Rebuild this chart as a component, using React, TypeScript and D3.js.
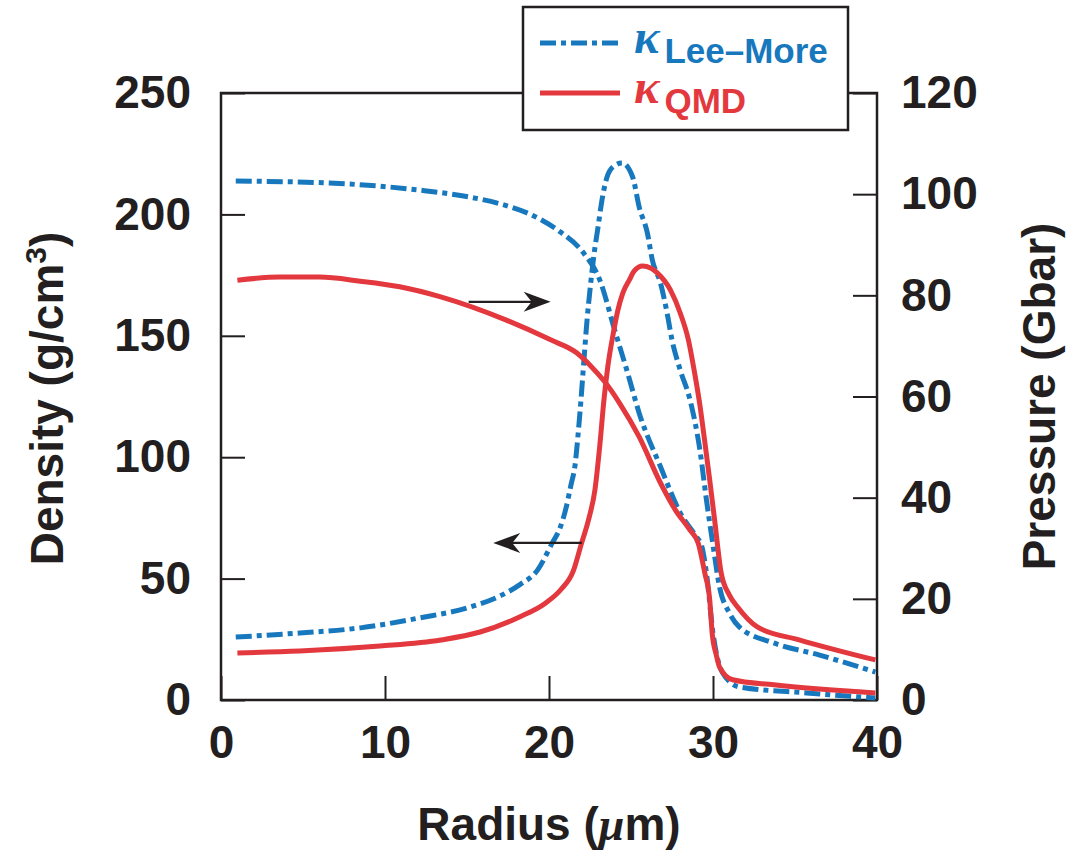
import React, { useEffect, useRef } from 'react';
import * as d3 from 'd3';

// Lee-More density (left axis, g/cm3)
const radiusLeeMoreDensity = [0.9, 4.8, 8.5, 12.1, 15.2, 17.0, 18.2, 19.3, 20.2, 20.67, 21.04, 21.34, 21.59, 21.77, 21.95, 22.13, 22.32, 22.5, 22.74, 22.99, 23.23, 23.54, 23.96, 24.45, 25.1, 25.5, 26.0, 26.3, 26.8, 27.2, 27.5, 28.0, 28.6, 29.2, 29.6, 30.0, 30.4, 31.0, 31.6, 33.7, 36.5, 39.9];
const densityLeeMore = [25.9, 27.6, 29.7, 33.8, 38.3, 42.8, 47.4, 53.5, 64.7, 70.8, 79.1, 88.6, 96.8, 109.1, 123.6, 140.0, 156.5, 168.9, 183.3, 194.8, 205.9, 215.4, 219.9, 221.2, 215.4, 203.0, 192.3, 181.2, 171.7, 159.4, 148.3, 135.9, 123.6, 103.0, 82.4, 63.8, 46.5, 35.8, 30.1, 23.5, 18.5, 11.5];

// QMD density (left axis)
const radiusQmdDensity = [1.0, 4.8, 9.7, 13.4, 15.8, 18.2, 19.8, 20.7, 21.5, 21.95, 22.44, 22.8, 23.1, 23.35, 23.6, 23.9, 24.2, 24.5, 24.9, 25.2, 25.7, 26.2, 26.6, 27.4, 28.0, 28.5, 28.9, 29.2, 29.5, 29.8, 30.1, 30.5, 31.0, 31.5, 32.7, 35.3, 39.9];
const densityQmd = [19.4, 20.2, 22.2, 24.7, 28.0, 34.2, 40.0, 45.3, 53.5, 63.8, 75.0, 86.5, 105.0, 123.6, 138.0, 150.3, 160.6, 167.6, 173.0, 176.7, 178.7, 177.9, 175.9, 168.9, 159.4, 148.3, 133.9, 121.5, 106.3, 90.6, 74.1, 52.3, 43.2, 38.3, 30.1, 24.7, 16.5];

// Lee-More pressure (right axis, Gbar)
const radiusLeeMorePressure = [0.9, 6.6, 12.1, 15.2, 17.0, 18.8, 20.7, 22.1, 23.1, 24.0, 24.8, 25.5, 26.8, 28.0, 29.0, 29.3, 29.6, 30.0, 30.3, 30.6, 31.6, 35.7, 39.9];
const pressureLeeMore = [102.6, 102.2, 100.8, 99.4, 98.1, 96.1, 92.5, 88.4, 83.0, 73.2, 64.6, 56.7, 46.1, 37.0, 32.2, 30.6, 25.1, 13.2, 7.9, 5.3, 2.6, 1.4, 0.4];

// QMD pressure (right axis)
const radiusQmdPressure = [1.0, 3.6, 6.0, 8.5, 10.9, 13.4, 17.4, 20.1, 21.7, 22.5, 23.4, 24.3, 25.5, 26.8, 27.7, 28.6, 29.1, 29.5, 29.8, 29.95, 30.2, 30.4, 31.2, 33.7, 39.9];
const pressureQmd = [83.0, 83.6, 83.6, 82.8, 81.7, 79.7, 75.1, 71.2, 68.6, 66.2, 62.9, 58.7, 52.0, 42.9, 37.6, 33.6, 31.0, 25.1, 19.8, 13.2, 8.9, 6.5, 4.0, 3.0, 1.4];

const radiusTicks = [0, 10, 20, 30, 40];
const densityTicks = [0, 50, 100, 150, 200, 250];
const pressureTicks = [0, 20, 40, 60, 80, 100, 120];

// arrows, in radius / density units: [x1, x2, y]
const arrowRight = [15.1, 20.1, 164];
const arrowLeft = [22.0, 16.6, 64.7];

const BLUE = '#1878be';
const RED = '#e2383e';
const INK = '#231f20';
const FONT = 'Liberation Sans, Arial, Helvetica, sans-serif';
const GREEK = 'Liberation Serif, Times New Roman, serif';

const App = () => {
  const svgRef = useRef<SVGSVGElement>(null);

  const width = 1077;
  const height = 856;
  const margin = { top: 93, right: 200, bottom: 156, left: 221 };

  useEffect(() => {
    const svg = d3.select(svgRef.current);
    svg.selectAll('*').remove();

    const x = d3.scaleLinear().domain([0, 40]).range([margin.left, width - margin.right]);
    const yL = d3.scaleLinear().domain([0, 250]).range([height - margin.bottom, margin.top]);
    const yR = d3.scaleLinear().domain([0, 120]).range([height - margin.bottom, margin.top]);

    const styleAxis = (g: any) => {
      g.select('.domain').remove();
      g.selectAll('.tick line').attr('stroke', INK).attr('stroke-width', 2);
      g.selectAll('.tick text')
        .attr('fill', INK)
        .attr('font-size', 46)
        .attr('font-weight', 'bold')
        .attr('font-family', FONT);
    };

    // frame
    svg.append('rect')
      .attr('x', x(0))
      .attr('y', yL(250))
      .attr('width', x(40) - x(0))
      .attr('height', yL(0) - yL(250))
      .attr('fill', 'none')
      .attr('stroke', INK)
      .attr('stroke-width', 2.5);

    svg.append('g')
      .attr('transform', `translate(${x(0)},0)`)
      .call(d3.axisLeft(yL).tickValues(densityTicks).tickSize(-24).tickPadding(30))
      .call(styleAxis);

    svg.append('g')
      .attr('transform', `translate(${x(40)},0)`)
      .call(d3.axisRight(yR).tickValues(pressureTicks).tickSize(-24).tickPadding(24))
      .call(styleAxis);

    svg.append('g')
      .attr('transform', `translate(0,${yL(0)})`)
      .call(d3.axisBottom(x).tickValues(radiusTicks).tickSize(-24).tickPadding(25))
      .call(styleAxis);

    const lineL = d3.line<[number, number]>()
      .x(d => x(d[0]))
      .y(d => yL(d[1]))
      .curve(d3.curveMonotoneX);
    const lineR = d3.line<[number, number]>()
      .x(d => x(d[0]))
      .y(d => yR(d[1]))
      .curve(d3.curveMonotoneX);

    const dashDot = '16,5,5,5';

    svg.append('path')
      .attr('d', lineR(d3.zip(radiusLeeMorePressure, pressureLeeMore) as [number, number][]))
      .attr('fill', 'none').attr('stroke', BLUE).attr('stroke-width', 5).attr('stroke-dasharray', dashDot);
    svg.append('path')
      .attr('d', lineL(d3.zip(radiusLeeMoreDensity, densityLeeMore) as [number, number][]))
      .attr('fill', 'none').attr('stroke', BLUE).attr('stroke-width', 5).attr('stroke-dasharray', dashDot);
    svg.append('path')
      .attr('d', lineR(d3.zip(radiusQmdPressure, pressureQmd) as [number, number][]))
      .attr('fill', 'none').attr('stroke', RED).attr('stroke-width', 5);
    svg.append('path')
      .attr('d', lineL(d3.zip(radiusQmdDensity, densityQmd) as [number, number][]))
      .attr('fill', 'none').attr('stroke', RED).attr('stroke-width', 5);

    // arrows
    const drawArrow = (a: number[]) => {
      const x1 = x(a[0]), x2 = x(a[1]), yy = yL(a[2]);
      const dir = x2 > x1 ? 1 : -1;
      svg.append('line')
        .attr('x1', x1).attr('x2', x2 - dir * 18)
        .attr('y1', yy).attr('y2', yy)
        .attr('stroke', INK).attr('stroke-width', 2.2);
      svg.append('path')
        .attr('d', `M0,0 L-27,-10 L-19,0 L-27,10 Z`)
        .attr('transform', `translate(${x2},${yy}) scale(${dir},1)`)
        .attr('fill', INK);
    };
    drawArrow(arrowRight);
    drawArrow(arrowLeft);

    // legend
    const lg = svg.append('g');
    lg.append('rect')
      .attr('x', 523).attr('y', 7).attr('width', 325).attr('height', 123)
      .attr('fill', '#fff').attr('stroke', INK).attr('stroke-width', 2.5);
    const entries = [
      { label: 'Lee\u2013More', color: BLUE, dash: dashDot, y: 43 },
      { label: 'QMD', color: RED, dash: null, y: 93 },
    ];
    entries.forEach(e => {
      lg.append('line')
        .attr('x1', 540).attr('x2', 620).attr('y1', e.y).attr('y2', e.y)
        .attr('stroke', e.color).attr('stroke-width', 5)
        .attr('stroke-dasharray', e.dash);
      const t = lg.append('text')
        .attr('x', 634).attr('y', e.y + 10)
        .attr('fill', e.color)
        .attr('font-family', FONT)
        .attr('font-weight', 'bold');
      t.append('tspan')
        .attr('font-family', GREEK).attr('font-style', 'italic').attr('font-size', 48)
        .text('\u03ba');
      t.append('tspan')
        .attr('font-size', 35).attr('dx', 5).attr('dy', 10)
        .text(e.label);
    });

    // axis titles
    const dens = svg.append('text')
      .attr('transform', `translate(63,${(yL(0) + yL(250)) / 2 + 2}) rotate(-90)`)
      .attr('text-anchor', 'middle')
      .attr('font-family', FONT).attr('font-weight', 'bold').attr('font-size', 46)
      .attr('fill', INK);
    dens.append('tspan').text('Density (g/cm');
    dens.append('tspan').attr('font-size', 30).attr('dy', -17).text('3');
    dens.append('tspan').attr('dy', 17).text(')');

    svg.append('text')
      .attr('transform', `translate(1055,${(yR(0) + yR(120)) / 2}) rotate(-90)`)
      .attr('text-anchor', 'middle')
      .attr('font-family', FONT).attr('font-weight', 'bold').attr('font-size', 46)
      .attr('fill', INK)
      .text('Pressure (Gbar)');

    const rad = svg.append('text')
      .attr('x', (x(0) + x(40)) / 2).attr('y', 840)
      .attr('text-anchor', 'middle')
      .attr('font-family', FONT).attr('font-weight', 'bold').attr('font-size', 46)
      .attr('fill', INK);
    rad.append('tspan').text('Radius (');
    rad.append('tspan').attr('font-family', GREEK).attr('font-style', 'italic').text('\u03bc');
    rad.append('tspan').text('m)');
  }, []);

  return (
    <svg
      ref={svgRef}
      width={width}
      height={height}
      style={{ position: 'absolute', left: 0, top: 0, background: '#fff' }}
    />
  );
};

export default App;
